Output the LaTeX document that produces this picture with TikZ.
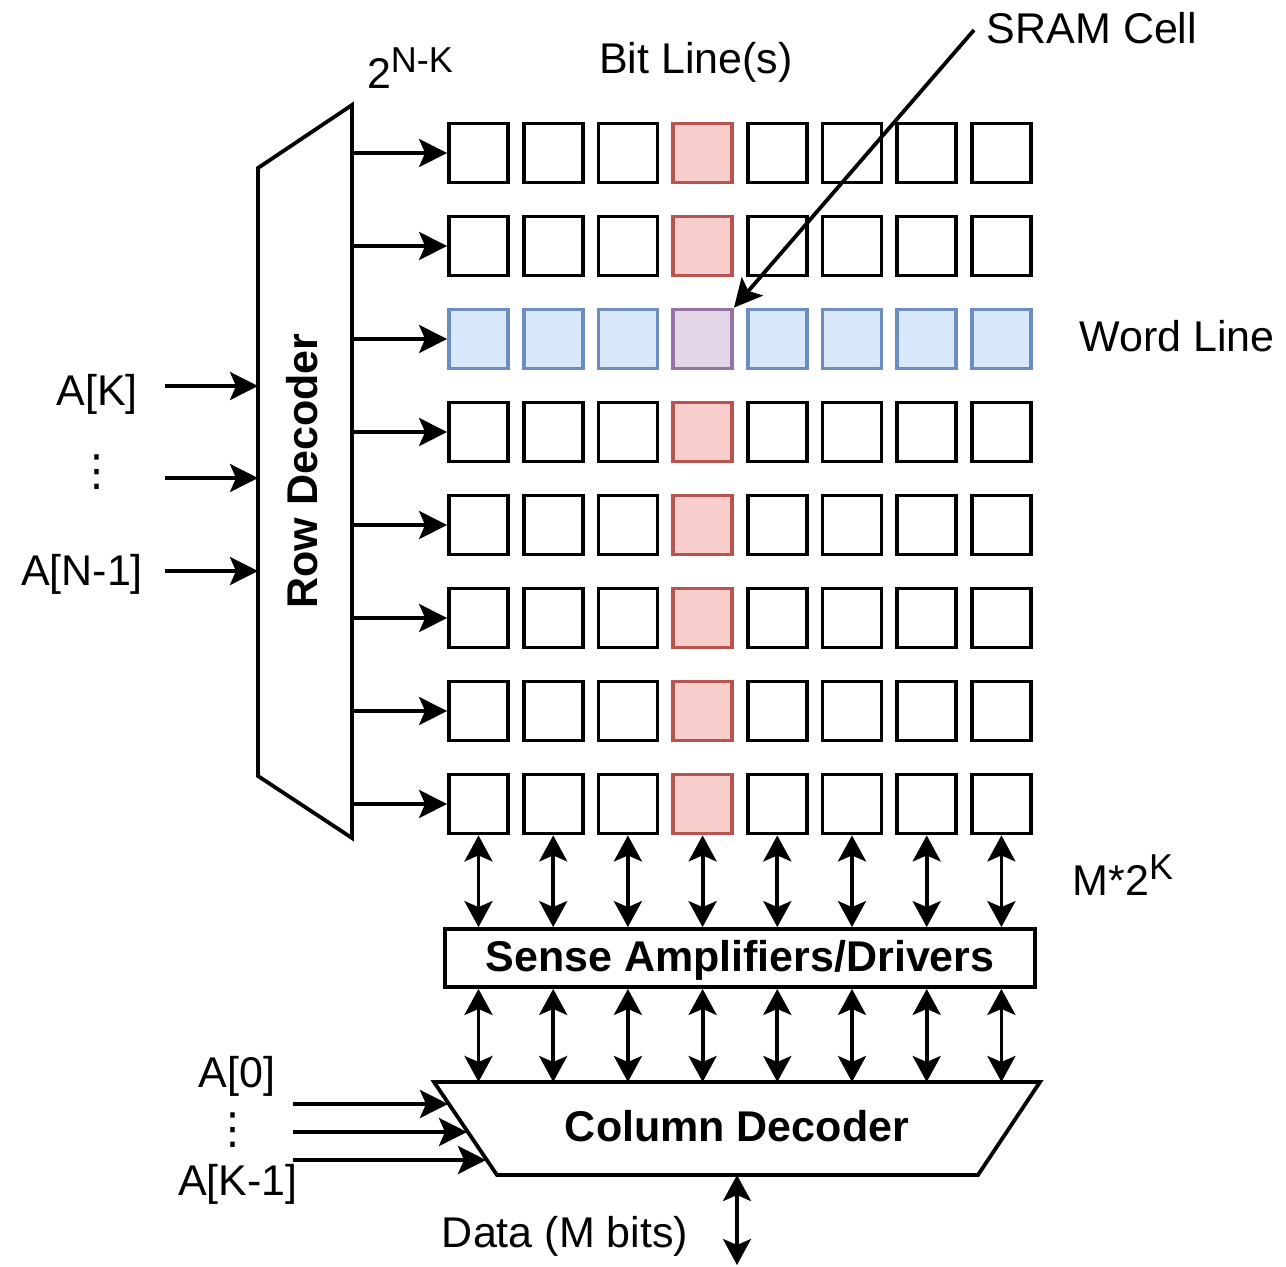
\documentclass[tikz,border=0pt]{standalone}
\usepackage{fontspec}
\setmainfont{Liberation Sans}
\newfontfamily\djv{DejaVu Sans}
\usetikzlibrary{arrows.meta}
\definecolor{redf}{HTML}{F8CECC}
\definecolor{redd}{HTML}{B85450}
\definecolor{bluef}{HTML}{DAE8FC}
\definecolor{blued}{HTML}{6C8EBF}
\definecolor{purf}{HTML}{E1D5E7}
\definecolor{purd}{HTML}{9673A6}
\newcommand\supx[1]{\raisebox{8pt}{\fontsize{18}{18}\selectfont #1}}
\newcommand\vdts{{\djv ⋮}}
\begin{document}
\begin{tikzpicture}[x=0.5pt,y=-0.5pt,line width=1.9pt,
  cell/.style={draw=black,minimum width=29.5pt,minimum height=29.5pt,inner sep=0pt},
  rcell/.style={cell,draw=redd,fill=redf},
  bcell/.style={cell,draw=blued,fill=bluef},
  pcell/.style={cell,draw=purd,fill=purf},
  lbl/.style={inner sep=0pt,font=\fontsize{21.5}{26}\selectfont},
  blbl/.style={inner sep=0pt,font=\fontsize{21.5}{26}\selectfont\bfseries},
  arr/.style={-{Stealth[length=14pt,width=14pt,inset=3pt]}},
  dbl/.style={{Stealth[length=13pt,width=14pt,inset=3pt]}-{Stealth[length=13pt,width=14pt,inset=3pt]}}]
\useasboundingbox (0,0) rectangle (1286,1266);
% cells
\foreach \i in {0,...,7}{
  \foreach \j in {0,...,7}{
    \pgfmathsetmacro\cx{478.5+74.7*\j}
    \pgfmathsetmacro\cy{153+93*\i}
    \ifnum\i=2 \ifnum\j=3 \def\st{pcell}\else\def\st{bcell}\fi
    \else \ifnum\j=3 \def\st{rcell}\else\def\st{cell}\fi\fi
    \node[\st] (c-\i-\j) at (\cx,\cy) {};
  }
}
% row decoder
\coordinate (rdtl) at (258,168);
\coordinate (rdtr) at (352,105);
\coordinate (rdbr) at (352,838);
\coordinate (rdbl) at (258,776);
\draw[line join=miter] (rdtl) -- (rdtr) -- (rdbr) -- (rdbl) -- cycle;
\node[blbl,rotate=90] (rdlabel) at (302,471) {Row Decoder};
\foreach \i in {0,...,7}{
  \draw[arr] (c-\i-0.west -| rdtr) -- (c-\i-0.west);
}
% row decoder inputs
\node[lbl,anchor=base] (aK) at (97,405) {A[K]};
\node[lbl] (adots) at (97,472) {\vdts};
\node[lbl,anchor=base] (aN) at (82,585) {A[N-1]};
\coordinate (ri1s) at (165,386); \coordinate (ri1e) at (258,386);
\coordinate (ri2s) at (165,478); \coordinate (ri2e) at (258,478);
\coordinate (ri3s) at (165,571); \coordinate (ri3e) at (258,571);
\draw[arr] (ri1s) -- (ri1e);
\draw[arr] (ri2s) -- (ri2e);
\draw[arr] (ri3s) -- (ri3e);
% sense amplifiers
\node[draw,minimum width=295pt,minimum height=29pt,inner sep=0pt,
      font=\fontsize{21.5}{26}\selectfont\bfseries,text height=15.4pt,text depth=2.4pt]
      (sa) at (740,958) {Sense Amplifiers/Drivers};
% column decoder
\coordinate (cdtl) at (434,1082);
\coordinate (cdtr) at (1040,1082);
\coordinate (cdbr) at (978,1175);
\coordinate (cdbl) at (497,1175);
\draw[line join=miter] (cdtl) -- (cdtr) -- (cdbr) -- (cdbl) -- cycle;
\node[blbl,anchor=base] (cdlabel) at (737,1141) {Column Decoder};
\foreach \j in {0,...,7}{
  \draw[dbl] (c-7-\j.south) -- (c-7-\j.south |- sa.north);
  \draw[dbl] (c-7-\j.south |- sa.south) -- (c-7-\j.south |- cdtl);
}
% column decoder inputs
\node[lbl,anchor=base] (a0) at (237,1087) {A[0]};
\node[lbl] (a0dots) at (233,1130) {\vdts};
\node[lbl,anchor=base] (aK1) at (238,1195) {A[K-1]};
\coordinate (ci1s) at (293,1104); \coordinate (ci1e) at (448,1104);
\coordinate (ci2s) at (293,1132); \coordinate (ci2e) at (467,1132);
\coordinate (ci3s) at (293,1160); \coordinate (ci3e) at (486,1160);
\draw[arr] (ci1s) -- (ci1e);
\draw[arr] (ci2s) -- (ci2e);
\draw[arr] (ci3s) -- (ci3e);
% data
\coordinate (dtop) at (737,1175);
\coordinate (dbot) at (737,1265);
\draw[dbl] (dtop) -- (dbot);
\node[lbl,anchor=base] (data) at (565,1247) {Data (M bits)};
% top labels
\node[lbl,anchor=base] (nk) at (410,88) {2\supx{N-K}};
\node[lbl,anchor=base] (bitline) at (696,73) {Bit Line(s)};
\node[lbl,anchor=base] (sram) at (1092,43) {SRAM Cell};
\coordinate (sramstart) at (974,30);
\draw[arr] (sramstart) -- (c-2-3.north east);
\node[lbl,anchor=base] (wl) at (1177,351) {Word Line};
\node[lbl,anchor=base] (m2k) at (1123,895) {M*2\supx{K}};
\end{tikzpicture}
\end{document}
